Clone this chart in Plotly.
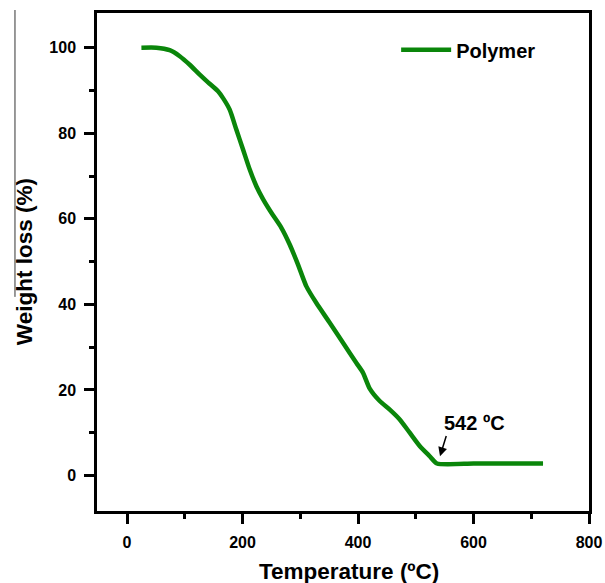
import plotly.graph_objects as go

temperature = [24.9, 50.9, 73.9, 91.3, 108.6, 125.9, 140.3, 157.6, 166.3, 177.8, 189.4, 200.9,
               212.5, 224.0, 235.5, 250.0, 267.3, 281.7, 296.1, 310.6, 327.9, 351.0, 374.0,
               397.2, 408.7, 420.3, 437.6, 455.0, 472.2, 489.5, 506.8, 524.2, 536.8, 600.0, 660.0, 720.4]
weight = [100.0, 100.0, 99.4, 98.0, 96.0, 93.7, 91.9, 89.8, 88.2, 85.5, 80.8, 76.2,
          71.5, 67.6, 64.6, 61.4, 57.9, 54.0, 49.3, 44.2, 40.3, 35.7, 31.0,
          26.3, 24.0, 20.3, 17.4, 15.4, 13.1, 10.0, 6.9, 4.5, 2.8, 2.8, 2.8, 2.8]
series_name = "Polymer"
annotation_text = "542 ºC"
x_title = "Temperature (ºC)"
y_title = "Weight loss (%)"
x_ticks = [0, 200, 400, 600, 800]
y_ticks = [0, 20, 40, 60, 80, 100]

font_family = "Liberation Sans, Arial, sans-serif"
green = "#0a860a"

fig = go.Figure()
fig.add_trace(go.Scatter(x=temperature, y=weight, mode="lines", name=series_name,
                         line=dict(color=green, width=4.5, shape="spline", smoothing=0.6)))

fig.update_layout(
    width=605, height=583,
    margin=dict(l=97, r=16, t=13, b=72),
    paper_bgcolor="white", plot_bgcolor="white",
    font=dict(family=font_family, color="black"),
    showlegend=True,
    legend=dict(x=0.608, y=0.926, xanchor="left", yanchor="middle", bgcolor="rgba(0,0,0,0)",
                font=dict(size=20, weight="bold", family=font_family), itemwidth=50),
)

fig.update_xaxes(
    range=[-52, 800], tickvals=x_ticks, showgrid=False, zeroline=False, automargin=False,
    showline=True, linewidth=2.5, linecolor="black", mirror=True,
    ticks="outside", ticklen=10, tickwidth=2.5, tickcolor="black", ticklabelstandoff=5,
    minor=dict(ticks="outside", ticklen=5, tickwidth=2.5, tickcolor="black", dtick=100, tick0=0, showgrid=False),
    tickfont=dict(size=16, weight="bold", family=font_family),
)
fig.update_yaxes(
    range=[-8.3, 108.1], tickvals=y_ticks, showgrid=False, zeroline=False, automargin=False,
    showline=True, linewidth=2.5, linecolor="black", mirror=True,
    ticks="outside", ticklen=10, tickwidth=2.5, tickcolor="black", ticklabelstandoff=5,
    minor=dict(ticks="outside", ticklen=5, tickwidth=2.5, tickcolor="black", dtick=10, tick0=0, showgrid=False),
    tickfont=dict(size=16, weight="bold", family=font_family),
)

# axis titles
fig.add_annotation(xref="paper", yref="paper", x=0.512, y=-0.1205, text=x_title, showarrow=False,
                   xanchor="center", yanchor="middle",
                   font=dict(size=22.5, weight="bold", family=font_family))
fig.add_annotation(xref="paper", yref="paper", x=-0.148, y=0.5, text=y_title, showarrow=False,
                   textangle=-90, xanchor="center", yanchor="middle",
                   font=dict(size=22.5, weight="bold", family=font_family))

fig.add_annotation(x=542, y=4.5, ax=553.6, ay=9.6, axref="x", ayref="y",
                   showarrow=True, arrowhead=2, arrowsize=1.2, arrowwidth=1.5, arrowcolor="black", text="")
fig.add_annotation(x=602, y=12.3, text=annotation_text, showarrow=False,
                   font=dict(size=20, weight="bold", family=font_family))

fig.add_shape(type="line", xref="paper", yref="paper", x0=-0.1667, x1=-0.1667,
              y0=1.006, y1=0.43, line=dict(color="#333333", width=1))

fig.write_html("out.html", config={"displayModeBar": False},
               post_script="document.body.style.margin='0';document.body.style.overflow='hidden';")
